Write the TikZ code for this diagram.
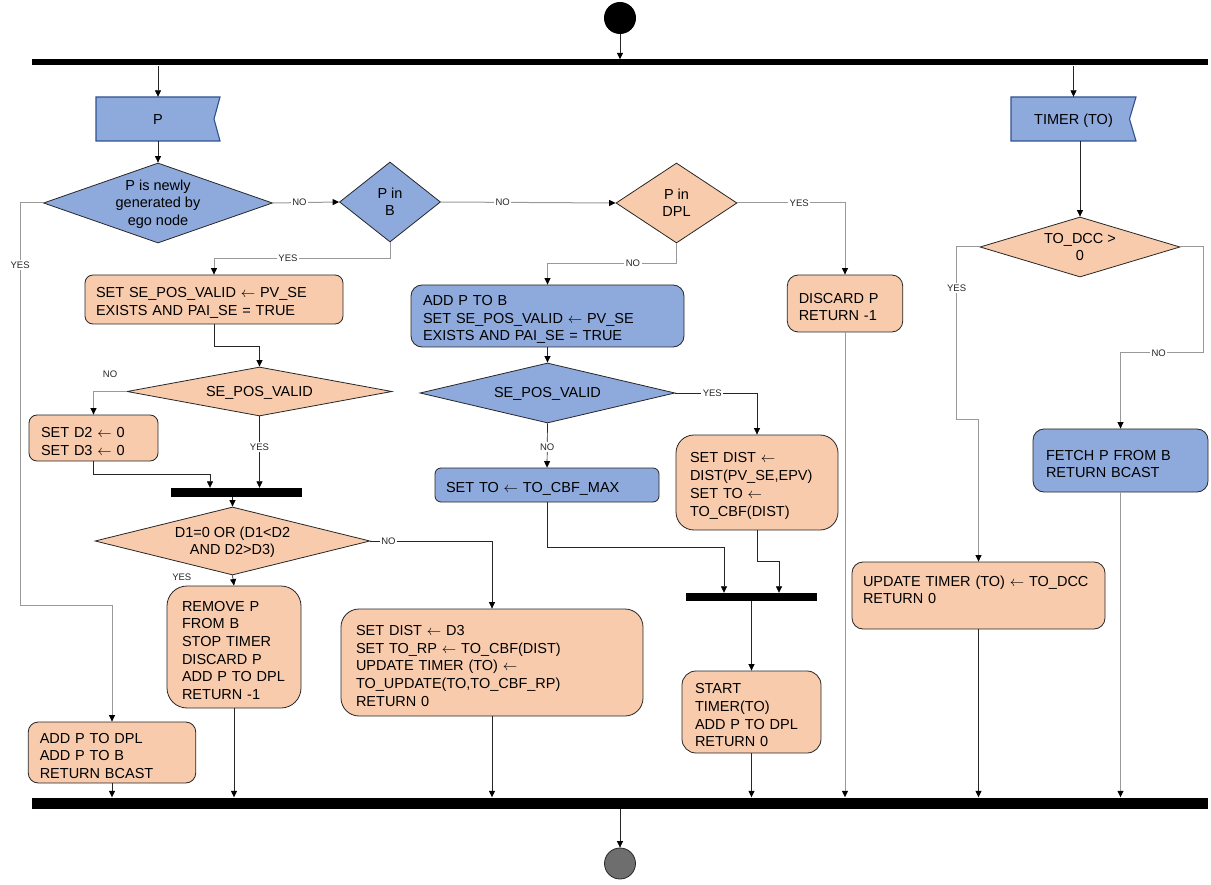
\documentclass[tikz,border=0pt]{standalone}
\usepackage{fontspec}
\setmainfont{Liberation Sans}
\usetikzlibrary{shapes.geometric,arrows.meta}
\definecolor{bluef}{HTML}{8EA9DB}
\definecolor{orf}{HTML}{F8CBAD}
\definecolor{flagb}{HTML}{2F528F}
\definecolor{endg}{HTML}{6E6E6E}
\newcommand\boxfont{\fontsize{14.5}{17.7}\selectfont}
\newcommand\lblfont{\fontsize{9.5}{11}\selectfont}
\newcommand\larr{\ensuremath{\leftarrow}}
\newcommand\ctr[1]{\makebox[0pt]{\raisebox{-5pt}[0pt][0pt]{\begin{tabular}{@{}c@{}}#1\end{tabular}}}}
\begin{document}
\begin{tikzpicture}[x=1pt,y=-1pt,
  procbox/.style={draw=black!85, line width=0.8pt, rounded corners=#1, inner ysep=2pt, align=left, font=\boxfont, execute at begin node={\rule{0pt}{17pt}}},
  procbox/.default=9pt,
  dia/.style={diamond, draw=black!85, line width=0.8pt, inner sep=0pt, font=\boxfont},
  bar/.style={fill=black, inner sep=0pt, draw=none},
  lbl/.style={fill=white, font=\lblfont, inner sep=1.5pt, text=black!85},
  flag/.style={fill=bluef, draw=flagb, line width=1.1pt},
  flagtext/.style={inner sep=0pt, minimum height=44pt, font=\boxfont, text height=10.4pt, text depth=0pt},
  arr/.style={draw=black!85, line width=0.7pt, -{Triangle[length=6.5pt,width=6pt,color=black]}},
  garr/.style={draw=black!40, line width=1pt, -{Triangle[length=6.5pt,width=6pt,color=black]}},
]
\useasboundingbox (0,0) rectangle (1211,885);

% start / end / bars
\node[circle, fill=black, minimum size=32pt, inner sep=0pt] (start) at (620,18) {};
\node[bar, minimum width=1176pt, minimum height=6pt] (tb) at (620,62.5) {};
\node[bar, minimum width=1176pt, minimum height=11pt] (bb) at (620,803) {};
\node[circle, fill=endg, draw=black!85, line width=0.8pt, minimum size=31pt, inner sep=0pt] (end) at (620,863.5) {};
\node[bar, minimum width=131pt, minimum height=9pt] (bar1) at (236.5,492.5) {};
\node[bar, minimum width=131pt, minimum height=8pt] (bar2) at (751.5,597) {};

% flags
\path[flag] (96,97) -- (220,97) -- (214,119) -- (220,141) -- (96,141) -- cycle;
\node[flagtext, minimum width=124pt] (P) at (158,119) {P};
\path[flag] (1011,97) -- (1136,97) -- (1129.5,119) -- (1136,141) -- (1011,141) -- cycle;
\node[flagtext, minimum width=125pt] (T) at (1073.5,119) {TIMER (TO)};

% diamonds
\node[dia, fill=bluef, minimum width=229pt, minimum height=80pt] (d1) at (158,203) {\ctr{P is newly\\generated by\\ego node}};
\node[dia, fill=bluef, minimum width=101pt, minimum height=80pt] (d2) at (390,202) {\ctr{P in\\B}};
\node[dia, fill=orf, minimum width=121pt, minimum height=80pt] (d3) at (676.5,203) {\ctr{P in\\DPL}};
\node[dia, fill=orf, minimum width=265pt, minimum height=49pt] (dsp1) at (259.5,391.5) {\ctr{SE\_POS\_VALID}};
\node[dia, fill=bluef, minimum width=255pt, minimum height=60pt] (dsp2) at (547.5,393) {\ctr{SE\_POS\_VALID}};
\node[dia, fill=orf, minimum width=275pt, minimum height=68pt] (dd1) at (232.5,541) {\ctr{D1=0 OR (D1<D2\\AND D2>D3)}};
\node[dia, fill=orf, minimum width=200pt, minimum height=60pt] (dto) at (1080,247) {\ctr{TO\_DCC >\\0}};

% boxes
\node[procbox=8pt, fill=orf, inner xsep=11pt, text width=236pt, minimum height=49pt] (bset1) at (214,299.5) {SET SE\_POS\_VALID \larr{} PV\_SE\\EXISTS AND PAI\_SE = TRUE};
\node[procbox=8pt, fill=orf, inner xsep=12pt, text width=105pt, minimum height=46pt] (bd2) at (93.5,438) {SET D2 \larr{} 0\\SET D3 \larr{} 0};
\node[procbox=20pt, fill=orf, inner xsep=15pt, text width=104pt, minimum height=122pt] (brem) at (234,647) {REMOVE P\\FROM B\\STOP TIMER\\DISCARD P\\ADD P TO DPL\\RETURN -1};
\node[procbox=10pt, fill=orf, inner xsep=11.5pt, text width=144.5pt, minimum height=61pt] (baddl) at (112,752.5) {ADD P TO DPL\\ADD P TO B\\RETURN BCAST};
\node[procbox=11pt, fill=bluef, inner xsep=12pt, text width=249pt, minimum height=62pt] (baddb) at (547.5,316) {ADD P TO B\\SET SE\_POS\_VALID \larr{} PV\_SE\\EXISTS AND PAI\_SE = TRUE};
\node[procbox=6pt, fill=bluef, inner xsep=11pt, text width=202pt, minimum height=34pt] (bsetto) at (547,485) {SET TO \larr{} TO\_CBF\_MAX};
\node[procbox=18pt, fill=orf, inner xsep=14pt, text width=134pt, minimum height=95pt] (bsd) at (757,482.5) {SET DIST \larr\\DIST(PV\_SE,EPV)\\SET TO \larr\\TO\_CBF(DIST)};
\node[procbox=18pt, fill=orf, inner xsep=15pt, text width=272pt, minimum height=107pt] (bd3) at (492,662.5) {SET DIST \larr{} D3\\SET TO\_RP \larr{} TO\_CBF(DIST)\\UPDATE TIMER (TO) \larr\\TO\_UPDATE(TO,TO\_CBF\_RP)\\RETURN 0};
\node[procbox=14pt, fill=orf, inner xsep=13pt, text width=113pt, minimum height=82pt] (bstart) at (751.5,712) {START\\TIMER(TO)\\ADD P TO DPL\\RETURN 0};
\node[procbox=11pt, fill=orf, inner xsep=11.5pt, text width=92.5pt, minimum height=57pt] (bdisc) at (845,303.5) {DISCARD P\\RETURN -1};
\node[procbox=11pt, fill=bluef, inner xsep=13pt, text width=149pt, minimum height=63pt] (bfetch) at (1120.5,460.5) {FETCH P FROM B\\RETURN BCAST};
\node[procbox=11pt, fill=orf, inner xsep=11pt, text width=231pt, minimum height=67pt] (bupd) at (978.5,595.5) {UPDATE TIMER (TO) \larr{} TO\_DCC\\RETURN 0\rule[-18pt]{0pt}{0pt}};

% connectors
\draw[arr] (start.south) -- (start.south |- tb.north);
\draw[arr] (P.north |- tb.south) -- (P.north);
\draw[arr] (T.north |- tb.south) -- (T.north);
\draw[arr] (P.south) -- (d1.north);
\draw[garr] (d1.east) -- node[lbl, pos=0.4]{NO} (d2.west);
\draw[garr] (d2.east) -- node[lbl, pos=0.354]{NO} (d3.west);
\draw[garr] (d2.south) -- ++(0,16) -| node[lbl, pos=0.29]{YES} (bset1.north);
\draw[garr] (d1.west) -| node[lbl, pos=0.577]{YES} ++(-23,402) -| (baddl.north);
\draw[arr] (bset1.south) -- ++(0,22) -| (dsp1.north);
\draw[garr] (dsp1.west) -| node[lbl, fill=none, pos=0.25, yshift=17pt]{NO} (bd2.north);
\draw[arr] (bd2.south) -- ++(0,13) -| ([xshift=-26.5pt]bar1.north);
\draw[arr] (dsp1.south) -- node[lbl, pos=0.43]{YES} (dsp1.south |- bar1.north);
\draw[arr] (bar1.south -| dd1.north) -- (dd1.north);
\draw[arr] (dd1.east) -| node[lbl, pos=0.074]{NO} (bd3.north);
\draw[arr] (dd1.south) -- node[lbl, fill=none, pos=0.2, xshift=-51pt]{YES} (brem.north);
\draw[garr] (d3.east) -| node[lbl, pos=0.287]{YES} (bdisc.north);
\draw[garr] (d3.south) -- ++(0,20) -| node[lbl, pos=0.169]{NO} (baddb.north);
\draw[arr] (baddb.south) -- (dsp2.north);
\draw[arr] (dsp2.south) -- node[lbl, pos=0.53]{NO} (bsetto.north);
\draw[arr] (dsp2.east) -| node[lbl, pos=0.226]{YES} (bsd.north);
\draw[arr] (bsetto.south) -- ++(0,45) -| ([xshift=-27.5pt]bar2.north);
\draw[arr] (bsd.south) -- ++(0,31) -| ([xshift=27.5pt]bar2.north);
\draw[arr] (bar2.south -| bstart.north) -- (bstart.north);
\draw[arr] (T.south -| dto.north) -- (dto.north);
\draw[garr] (dto.west) -| node[lbl, pos=0.618]{YES} ++(-23,173) -| (bupd.north);
\draw[garr] (dto.east) -| ++(23,106) -| node[lbl, pos=0.27]{NO} (bfetch.north);
\draw[arr] (baddl.south) -- (baddl.south |- bb.north);
\draw[arr] (brem.south) -- (brem.south |- bb.north);
\draw[arr] (bd3.south) -- (bd3.south |- bb.north);
\draw[arr] (bstart.south) -- (bstart.south |- bb.north);
\draw[garr] (bdisc.south) -- (bdisc.south |- bb.north);
\draw[arr] (bupd.south) -- (bupd.south |- bb.north);
\draw[garr] (bfetch.south) -- (bfetch.south |- bb.north);
\draw[arr] (bb.south) -- (end.north);
\end{tikzpicture}
\end{document}
